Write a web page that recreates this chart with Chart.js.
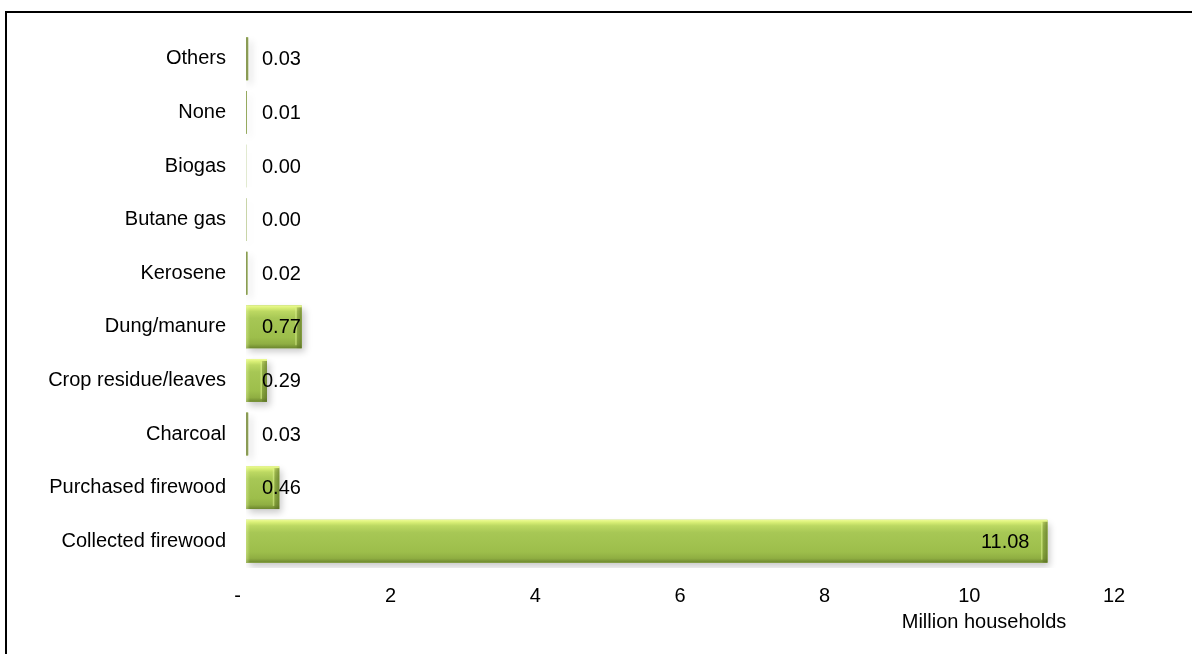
<!DOCTYPE html>
<html>
<head>
<meta charset="utf-8">
<title>Cooking fuel by households</title>
<script src="https://cdn.jsdelivr.net/npm/chart.js@4.4.1/dist/chart.umd.min.js"></script>
<style>
  html, body { margin: 0; padding: 0; background: #fff; overflow: hidden; }
  .chart-container { position: relative; width: 1192px; height: 654px; }
  .frame {
    position: absolute; left: 5px; top: 11px; width: 1300px; height: 800px;
    border-left: 2px solid #000; border-top: 2px solid #000; pointer-events: none;
  }
  canvas { position: absolute; left: 0; top: 0; }
</style>
</head>
<body>
<div class="chart-container">
  <div class="frame"></div>
  <canvas id="fuelChart" width="1192" height="654"></canvas>
</div>
<script>
// Main cooking fuel, million households
const fuelTypes = [
  'Others', 'None', 'Biogas', 'Butane gas', 'Kerosene',
  'Dung/manure', 'Crop residue/leaves', 'Charcoal', 'Purchased firewood', 'Collected firewood'
];
const households = [0.03, 0.01, 0.002, 0.004, 0.02, 0.77, 0.29, 0.03, 0.46, 11.08];
const xTicks = [0, 2, 4, 6, 8, 10, 12];
const axisTitle = 'Million households';

const FONT = { family: '"Liberation Sans", Arial, sans-serif', size: 20 };

// soft drop shadow under the bars
const barShadow = {
  id: 'barShadow',
  beforeDatasetDraw(chart) {
    const ctx = chart.ctx;
    ctx.save();
    ctx.shadowColor = 'rgba(0, 0, 0, 0.22)';
    ctx.shadowBlur = 7;
    ctx.shadowOffsetX = 3;
    ctx.shadowOffsetY = 4;
  },
  afterDatasetDraw(chart) {
    chart.ctx.restore();
  }
};

// bevelled look painted over each bar, then the value labels
const barBevel = {
  id: 'barBevel',
  afterDatasetsDraw(chart) {
    const ctx = chart.ctx;
    const meta = chart.getDatasetMeta(0);
    const ds = chart.data.datasets[0];
    meta.data.forEach((bar) => {
      const left = Math.min(bar.base, bar.x);
      const right = Math.max(bar.base, bar.x);
      const top = bar.y - bar.height / 2;
      const h = bar.height;
      const w = right - left;
      if (w <= 0) return;

      ctx.save();
      if (w < 4) {
        // hairline bars just show as a dull olive stroke
        ctx.fillStyle = '#8a9b55';
        ctx.fillRect(left, top, w, h);
        ctx.restore();
        return;
      }
      const g = ctx.createLinearGradient(0, top, 0, top + h);
      g.addColorStop(0, '#eefb96');
      g.addColorStop(0.06, '#d9ef76');
      g.addColorStop(0.14, '#bcd862');
      g.addColorStop(0.3, '#a7c755');
      g.addColorStop(0.75, '#9dbe4b');
      g.addColorStop(0.9, '#8fae42');
      g.addColorStop(1, '#6c862e');
      ctx.fillStyle = g;
      ctx.fillRect(left, top, w, h);

      // darker right-hand end cap with a thin light line before it
      const cap = Math.min(5, w * 0.25);
      const e = ctx.createLinearGradient(right - cap, 0, right, 0);
      e.addColorStop(0, 'rgba(80, 100, 30, 0.25)');
      e.addColorStop(1, 'rgba(80, 100, 30, 0.6)');
      ctx.fillStyle = e;
      ctx.fillRect(right - cap, top + 2, cap, h - 2);
      ctx.fillStyle = 'rgba(225, 245, 150, 0.5)';
      ctx.fillRect(right - cap - 1.5, top + 3, 1.5, h - 6);

      // light left edge
      const lc = Math.min(4, w * 0.3);
      const l = ctx.createLinearGradient(left, 0, left + lc, 0);
      l.addColorStop(0, 'rgba(235, 250, 170, 0.45)');
      l.addColorStop(1, 'rgba(235, 250, 170, 0)');
      ctx.fillStyle = l;
      ctx.fillRect(left, top, lc, h);
      ctx.restore();
    });

    // value labels: inside end, pushed out past the axis when the bar is short
    ctx.save();
    ctx.font = `${FONT.size}px ${FONT.family}`;
    ctx.fillStyle = '#000';
    ctx.textBaseline = 'middle';
    ctx.textAlign = 'left';
    const minLeft = chart.chartArea.left + 16;
    meta.data.forEach((bar, i) => {
      const text = ds.data[i].toFixed(2);
      const tw = ctx.measureText(text).width;
      const x = Math.max(minLeft, bar.x - 18 - tw);
      ctx.fillText(text, x, bar.y + 1);
    });
    ctx.restore();
  }
};

// axis title sitting under the right part of the value axis
const valueAxisTitle = {
  id: 'valueAxisTitle',
  afterDraw(chart) {
    const ctx = chart.ctx;
    ctx.save();
    ctx.font = `${FONT.size}px ${FONT.family}`;
    ctx.fillStyle = '#000';
    ctx.textAlign = 'center';
    ctx.textBaseline = 'middle';
    ctx.fillText(axisTitle, 984, 622);
    ctx.restore();
  }
};

new Chart(document.getElementById('fuelChart'), {
  type: 'bar',
  data: {
    labels: fuelTypes,
    datasets: [{
      data: households,
      backgroundColor: '#9dbe4b',
      borderWidth: 0,
      categoryPercentage: 1,
      barPercentage: 0.8
    }]
  },
  options: {
    indexAxis: 'y',
    responsive: false,
    animation: false,
    layout: { padding: { left: 0, top: 32, right: 78, bottom: 0 } },
    plugins: { legend: { display: false }, tooltip: { enabled: false } },
    scales: {
      x: {
        min: 0,
        max: 12,
        afterBuildTicks(scale) {
          scale.ticks = xTicks.map(v => ({ value: v }));
        },
        afterFit(scale) { scale.height = 86; },
        grid: { display: false, drawTicks: false },
        border: { display: false },
        ticks: {
          color: '#000',
          font: FONT,
          padding: 16,
          maxRotation: 0,
          callback: v => (v === 0 ? '-   ' : String(v))
        }
      },
      y: {
        afterFit(scale) { scale.width = 246; },
        grid: { display: false, drawTicks: false },
        border: { display: false },
        ticks: { color: '#000', font: FONT, padding: 20 }
      }
    }
  },
  plugins: [barShadow, barBevel, valueAxisTitle]
});
</script>
</body>
</html>
